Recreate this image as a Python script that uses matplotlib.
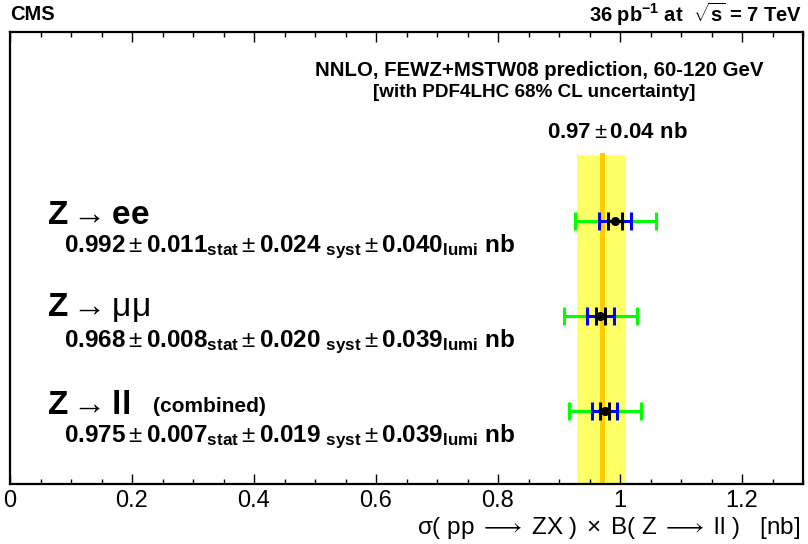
import matplotlib
matplotlib.use("Agg")
import matplotlib.pyplot as plt
from matplotlib.ticker import MultipleLocator

plt.rcParams['font.family'] = ['Liberation Sans', 'DejaVu Sans']
plt.rcParams['mathtext.fontset'] = 'custom'
plt.rcParams['mathtext.rm'] = 'Liberation Sans'
plt.rcParams['mathtext.bf'] = 'Liberation Sans:bold'
plt.rcParams['mathtext.it'] = 'Liberation Sans:italic'
plt.rcParams['mathtext.sf'] = 'Liberation Sans'

# ---- data ----
channels = ["ee", "mumu", "ll"]
values = [0.992, 0.968, 0.975]
stat = [0.011, 0.008, 0.007]
syst = [0.024, 0.020, 0.019]
lumi = [0.040, 0.039, 0.039]
ypos = [3, 2, 1]
theory = 0.97
theory_err = 0.04

W, H = 808, 544
fig = plt.figure(figsize=(W / 100, H / 100), dpi=100)
L, R, T, B = 10, 803, 32, 484
ax = fig.add_axes([L / W, 1 - B / H, (R - L) / W, (B - T) / H])

def py(p):
    # pixel row -> data y (points spaced 95 px, y=1 at row 411)
    return 1 + (411 - p) / 95.0

ylo, yhi = py(B), py(T)
ax.set_xlim(0, 1.3)
ax.set_ylim(ylo, yhi)

# theory band
band_top = py(155)
ax.fill_betweenx([ylo, band_top], theory - theory_err, theory + theory_err,
                 color='#FFFF66', lw=0, zorder=1)
ax.plot([theory, theory], [ylo, band_top], color='#FFCC00', lw=3.6, zorder=2)

for v, s, sy, lu, y in zip(values, stat, syst, lumi, ypos):
    ss = (s ** 2 + sy ** 2) ** 0.5
    tot = ss + lu
    ax.errorbar([v], [y], xerr=[tot], fmt='none', ecolor='#00FF00', elinewidth=2.2,
                capsize=6.3, capthick=2.2, zorder=3)
    ax.errorbar([v], [y], xerr=[ss], fmt='none', ecolor='#0000FF', elinewidth=2.2,
                capsize=6.3, capthick=2.2, zorder=4)
    ax.errorbar([v], [y], xerr=[s], fmt='none', ecolor='black', elinewidth=2.2,
                capsize=6.3, capthick=2.2, zorder=5)
    ax.plot([v], [y], 'o', color='black', ms=5.5, zorder=6)

ax.xaxis.set_major_locator(MultipleLocator(0.2))
ax.xaxis.set_minor_locator(MultipleLocator(0.05))
ax.tick_params(axis='x', which='both', direction='in', top=True, bottom=True,
               labelsize=17, pad=4)
ax.tick_params(axis='x', which='major', length=7, width=1.0)
ax.tick_params(axis='x', which='minor', length=3.5, width=1.0)
ax.set_xticks([0, 0.2, 0.4, 0.6, 0.8, 1.0, 1.2])
ax.set_xticklabels(["0", "0.2", "0.4", "0.6", "0.8", "1", "1.2"])
ax.tick_params(axis='y', left=False, right=False, labelleft=False)
for sp in ax.spines.values():
    sp.set_linewidth(1.6)

def ftxt(x, y, s, **kw):
    fig.text(x / W, 1 - y / H, s, **kw)

ftxt(10, 14, "CMS", fontsize=14.5, fontweight='bold', va='center', ha='left')
ftxt(802, 14, r"36 pb$^{\mathbf{-1}}$ at  $\sqrt{\mathbf{s}}$ = 7 TeV", fontsize=14.5,
     fontweight='bold', va='center', ha='right')
ftxt(539, 70, "NNLO, FEWZ+MSTW08 prediction, 60-120 GeV", fontsize=14.7,
     fontweight='bold', va='center', ha='center')
ftxt(534, 92, "[with PDF4LHC 68% CL uncertainty]", fontsize=13.6,
     fontweight='bold', va='center', ha='center')
ftxt(617, 133, r"$\mathbf{0.97} \pm \mathbf{0.04\ nb}$", fontsize=16,
     va='center', ha='center')

labels = [r"$\mathbf{Z} \rightarrow \mathbf{ee}$",
          r"$\mathbf{Z} \rightarrow \mathrm{μμ}$",
          r"$\mathbf{Z} \rightarrow \mathbf{ll}$"]
rows = [215, 308, 406]
for lab, r in zip(labels, rows):
    ftxt(47, r, lab, fontsize=24, va='center', ha='left')
ftxt(153, 406, "(combined)", fontsize=15, fontweight='bold', va='center', ha='left')

res_rows = [247, 342, 437]
for v, s, sy, lu, r in zip(values, stat, syst, lumi, res_rows):
    txt = (r"$\mathbf{%.3f} \pm \mathbf{%.3f}_{\mathbf{stat}} \pm \mathbf{%.3f}\;{}_{\mathbf{syst}}"
           r" \pm \mathbf{%.3f}_{\mathbf{lumi}}\ \mathbf{nb}$" % (v, s, sy, lu))
    ftxt(64, r, txt, fontsize=17.5, va='center', ha='left')

ftxt(800, 528, r"$\mathrm{σ(\ pp}\;\longrightarrow\;\mathrm{ZX\ )}\;\times\;\mathrm{B(\ Z}\;\longrightarrow\;\mathrm{ll\ )}$   [nb]",
     fontsize=17.5, va='center', ha='right')

fig.savefig("out.png", dpi=100)
